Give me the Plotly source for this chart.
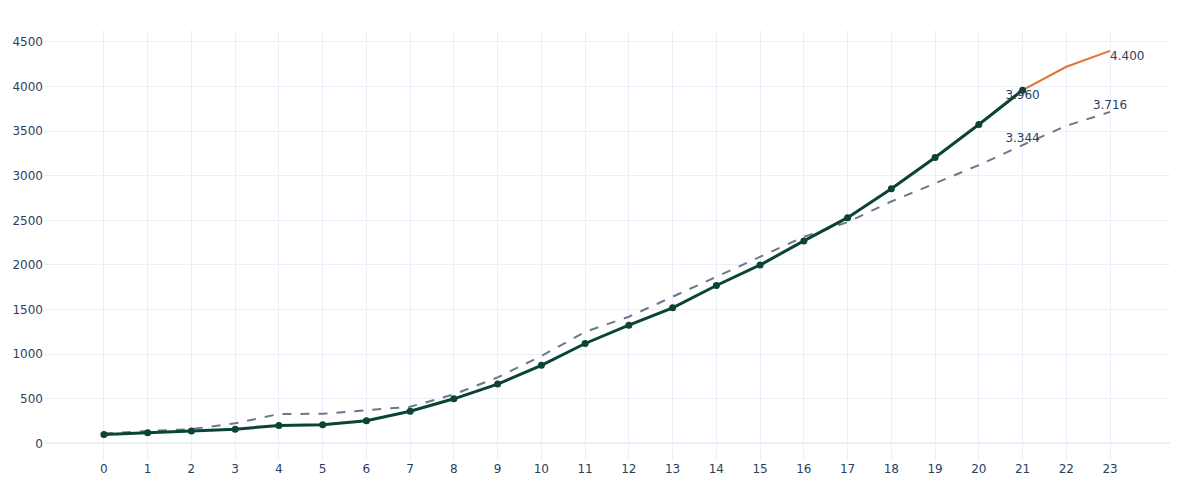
import plotly.graph_objects as go

# actual values (days 0..21)
actual_x = list(range(0, 22))
actual_y = [100, 120, 140, 160, 200, 210, 255, 360, 500, 665, 875, 1120,
            1325, 1520, 1770, 2000, 2270, 2530, 2855, 3205, 3575, 3960]

# projection of the actual series (days 21..23)
proj_x = [21, 22, 23]
proj_y = [3960, 4222, 4400]

# reference curve (days 0..23)
ref_x = list(range(0, 24))
ref_y = [110, 140, 160, 225, 330, 332, 373, 410, 550, 740, 980, 1250,
         1420, 1644, 1868, 2092, 2316, 2480, 2712, 2915, 3120, 3344, 3560, 3716]

# end labels
label_x = [21, 23, 21, 23]
label_y = [3960, 4400, 3344, 3716]
label_text = ["3.960", "4.400", "3.344", "3.716"]
label_pos = ["bottom center", "bottom right", "top center", "top center"]

fig = go.Figure()

fig.add_trace(go.Scatter(
    x=ref_x, y=ref_y,
    mode='lines',
    line=dict(color='#6b7790', width=2, dash='dash'),
    showlegend=False,
))

fig.add_trace(go.Scatter(
    x=proj_x, y=proj_y,
    mode='lines',
    line=dict(color='#e27333', width=2),
    showlegend=False,
))

fig.add_trace(go.Scatter(
    x=actual_x, y=actual_y,
    mode='lines+markers',
    line=dict(color='#0c4433', width=3),
    marker=dict(size=7, color='#0c4433'),
    showlegend=False,
))

fig.add_trace(go.Scatter(
    x=label_x, y=label_y,
    mode='text',
    text=label_text,
    textposition=label_pos,
    textfont=dict(size=12, color='#2a3f5f'),
    showlegend=False,
    hoverinfo='skip',
))

fig.update_layout(
    template='plotly_white',
    width=1200,
    height=500,
    margin=dict(l=44, r=30, t=30, b=40),
    xaxis=dict(range=[-1.37, 24.37], tickmode='array', tickvals=ref_x,
               zeroline=False, automargin=False),
    yaxis=dict(range=[-186, 4634], dtick=500, zeroline=True, automargin=False),
    font=dict(family='Verdana, DejaVu Sans, sans-serif', size=12, color='#2a3f5f'),
)

# figure sits at the top-left corner of the page, no body margin
fig.write_html("out.html", config={'displayModeBar': False},
               post_script="document.body.style.margin = '0';")
